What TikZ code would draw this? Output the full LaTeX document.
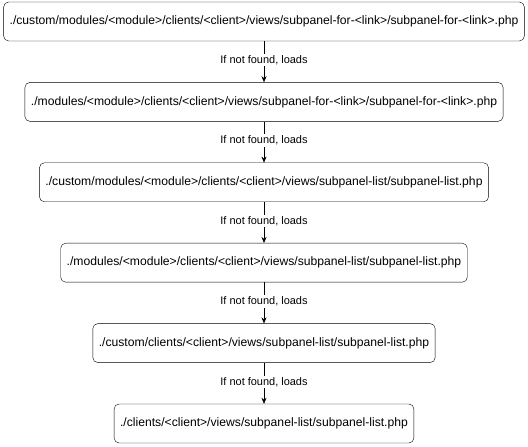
\documentclass[tikz,border=0pt]{standalone}
\usepackage{fontspec}
\setmainfont{Liberation Sans}
\usetikzlibrary{positioning,arrows.meta}

\begin{document}
\begin{tikzpicture}[
                    x=1bp, y=1bp,
                    every node/.style={font=\fontsize{12.2}{14}\selectfont},
                    pathbox/.style={draw, thin, rounded corners=5bp, minimum height=39bp, inner xsep=6bp},
                    loads/.style={-{Stealth[length=6bp, width=5bp]}, thin},
                    lbl/.style={fill=white, font=\fontsize{11}{13}\selectfont, inner sep=1.5bp},
                    node distance=41bp
                ]
                
                \useasboundingbox (0,0) rectangle (528,-447);
                \node[pathbox] (cmodfor) at (264,-21.5) {./custom/modules/<module>/clients/<client>/views/subpanel-for-<link>/subpanel-for-<link>.php};
                \node[pathbox, below=of cmodfor] (modfor) {./modules/<module>/clients/<client>/views/subpanel-for-<link>/subpanel-for-<link>.php};
                \node[pathbox, below=of modfor] (cmodlist) {./custom/modules/<module>/clients/<client>/views/subpanel-list/subpanel-list.php};
                \node[pathbox, below=of cmodlist] (modlist) {./modules/<module>/clients/<client>/views/subpanel-list/subpanel-list.php};
                \node[pathbox, below=of modlist] (clist) {./custom/clients/<client>/views/subpanel-list/subpanel-list.php};
                \node[pathbox, below=of clist] (list) {./clients/<client>/views/subpanel-list/subpanel-list.php};
                \foreach \a/\b in {cmodfor/modfor, modfor/cmodlist, cmodlist/modlist, modlist/clist, clist/list}
                    \draw[loads] (\a) -- node[lbl, yshift=1.5bp] {If not found, loads} (\b);
            \end{tikzpicture}
\end{document}
